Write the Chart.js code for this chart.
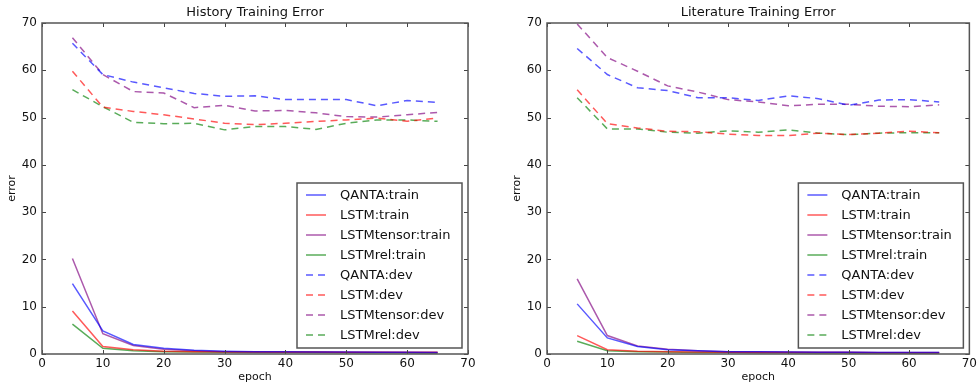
<!DOCTYPE html>
<html>
<head>
<meta charset="utf-8">
<script src="https://cdn.jsdelivr.net/npm/chart.js@4"></script>
<style>
  html, body { margin: 0; padding: 0; background: #fff; }
  #wrap { position: relative; width: 980px; height: 383px; }
  canvas { position: absolute; top: 0; }
</style>
</head>
<body>
<div id="wrap">
  <canvas id="histChart" width="490" height="383" style="left:0"></canvas>
  <canvas id="litChart" width="490" height="383" style="left:490px"></canvas>
</div>
<script>
const epochs = [5, 10, 15, 20, 25, 30, 35, 40, 45, 50, 55, 60, 65];
const xTicks = [0, 10, 20, 30, 40, 50, 60, 70];
const yTicks = [0, 10, 20, 30, 40, 50, 60, 70];

const seriesNames = ['QANTA:train', 'LSTM:train', 'LSTMtensor:train', 'LSTMrel:train',
                     'QANTA:dev', 'LSTM:dev', 'LSTMtensor:dev', 'LSTMrel:dev'];

// History
const histQantaTrain  = [14.9, 4.9, 2.0, 1.2, 0.8, 0.6, 0.5, 0.45, 0.4, 0.4, 0.35, 0.35, 0.3];
const histLstmTrain   = [9.1, 1.6, 0.9, 0.6, 0.5, 0.45, 0.4, 0.4, 0.4, 0.35, 0.35, 0.35, 0.35];
const histTensorTrain = [20.2, 4.3, 1.8, 1.0, 0.7, 0.5, 0.45, 0.4, 0.4, 0.35, 0.35, 0.3, 0.3];
const histRelTrain    = [6.3, 1.2, 0.7, 0.5, 0.4, 0.35, 0.3, 0.3, 0.3, 0.25, 0.25, 0.25, 0.2];
const histQantaDev    = [65.7, 59.1, 57.5, 56.3, 55.1, 54.5, 54.6, 53.8, 53.8, 53.8, 52.5, 53.6, 53.2];
const histLstmDev     = [59.8, 52.2, 51.3, 50.6, 49.7, 48.8, 48.5, 48.8, 49.2, 49.5, 49.9, 49.2, 49.9];
const histTensorDev   = [66.9, 59.1, 55.5, 55.2, 52.1, 52.6, 51.4, 51.5, 51.0, 50.2, 50.1, 50.6, 51.1];
const histRelDev      = [55.9, 52.3, 49.0, 48.7, 48.8, 47.4, 48.1, 48.1, 47.5, 48.8, 49.5, 49.5, 49.2];

// Literature
const litQantaTrain  = [10.6, 3.4, 1.6, 0.9, 0.7, 0.5, 0.45, 0.4, 0.35, 0.35, 0.3, 0.3, 0.3];
const litLstmTrain   = [3.9, 0.9, 0.6, 0.5, 0.4, 0.35, 0.3, 0.3, 0.3, 0.3, 0.25, 0.25, 0.25];
const litTensorTrain = [15.9, 3.9, 1.7, 1.0, 0.7, 0.5, 0.45, 0.4, 0.35, 0.35, 0.3, 0.3, 0.3];
const litRelTrain    = [2.7, 0.7, 0.5, 0.4, 0.3, 0.3, 0.25, 0.25, 0.2, 0.2, 0.2, 0.2, 0.2];
const litQantaDev    = [64.6, 59.1, 56.3, 55.7, 54.2, 54.2, 53.6, 54.6, 54.0, 52.6, 53.7, 53.8, 53.3];
const litLstmDev     = [55.9, 48.7, 47.8, 47.1, 47.0, 46.5, 46.2, 46.2, 46.7, 46.4, 46.7, 47.1, 46.8];
const litTensorDev   = [69.8, 62.7, 59.8, 56.7, 55.4, 53.8, 53.3, 52.5, 52.8, 52.8, 52.4, 52.3, 52.7];
const litRelDev      = [54.2, 47.6, 47.6, 46.9, 46.7, 47.2, 46.9, 47.4, 46.7, 46.4, 46.7, 46.8, 46.8];

const colors = ['rgba(0,0,255,0.65)', 'rgba(255,0,0,0.65)', 'rgba(128,0,128,0.65)', 'rgba(0,128,0,0.65)'];
const FONT = '"DejaVu Sans", sans-serif';
const DASH = [7, 5];

function makeDatasets(list) {
  return list.map((vals, i) => ({
    label: seriesNames[i],
    data: vals.map((v, j) => ({ x: epochs[j], y: v })),
    borderColor: colors[i % 4],
    borderWidth: 1.5,
    borderDash: i >= 4 ? DASH : [],
    pointRadius: 0,
    tension: 0,
    fill: false
  }));
}

// frame, inward ticks, title, axis labels and legend in matplotlib style
const mplDecor = {
  id: 'mplDecor',
  afterDraw(chart, args, opts) {
    const ctx = chart.ctx;
    const a = chart.chartArea;
    const xs = chart.scales.x, ys = chart.scales.y;
    ctx.save();
    ctx.strokeStyle = '#444';
    ctx.lineWidth = 1;
    xTicks.forEach(t => {
      const p = Math.round(xs.getPixelForValue(t)) + 0.5;
      ctx.beginPath();
      ctx.moveTo(p, a.bottom); ctx.lineTo(p, a.bottom - 4);
      ctx.moveTo(p, a.top); ctx.lineTo(p, a.top + 4);
      ctx.stroke();
    });
    yTicks.forEach(t => {
      const p = Math.round(ys.getPixelForValue(t)) + 0.5;
      ctx.beginPath();
      ctx.moveTo(a.left, p); ctx.lineTo(a.left + 4, p);
      ctx.moveTo(a.right, p); ctx.lineTo(a.right - 4, p);
      ctx.stroke();
    });
    ctx.lineWidth = 1.5;
    ctx.strokeStyle = '#555';
    ctx.strokeRect(a.left, a.top, a.right - a.left, a.bottom - a.top);

    // title and axis labels
    ctx.fillStyle = '#111';
    ctx.textAlign = 'center';
    ctx.textBaseline = 'middle';
    ctx.font = '13px ' + FONT;
    ctx.fillText(opts.title, (a.left + a.right) / 2, 13);
    ctx.font = '11px ' + FONT;
    ctx.fillText('epoch', (a.left + a.right) / 2, 377);
    ctx.save();
    ctx.translate(opts.yLabelX, (a.top + a.bottom) / 2);
    ctx.rotate(-Math.PI / 2);
    ctx.fillText('error', 0, 0);
    ctx.restore();

    // legend box in lower right
    const w = 165, h = 165;
    const bx = a.right - 6 - w, by = a.bottom - 6 - h;
    ctx.fillStyle = '#fff';
    ctx.fillRect(bx, by, w, h);
    ctx.lineWidth = 1.5;
    ctx.strokeStyle = '#555';
    ctx.strokeRect(bx, by, w, h);
    ctx.font = '13px ' + FONT;
    ctx.textAlign = 'left';
    chart.data.datasets.forEach((ds, i) => {
      const cy = by + 12 + i * 20;
      ctx.beginPath();
      ctx.setLineDash(ds.borderDash || []);
      ctx.strokeStyle = ds.borderColor;
      ctx.lineWidth = 1.5;
      ctx.moveTo(bx + 9, cy); ctx.lineTo(bx + 29, cy);
      ctx.stroke();
      ctx.setLineDash([]);
      ctx.fillStyle = '#111';
      ctx.fillText(ds.label, bx + 43, cy + 1);
    });
    ctx.restore();
  }
};

function makeChart(id, title, list, axisWidth, padRight, yLabelX) {
  return new Chart(document.getElementById(id), {
    type: 'line',
    data: { datasets: makeDatasets(list) },
    plugins: [mplDecor],
    options: {
      responsive: false,
      animation: false,
      devicePixelRatio: 1,
      layout: { padding: { top: 23, right: padRight, bottom: 0, left: 0 } },
      plugins: {
        legend: { display: false },
        title: { display: false },
        tooltip: { enabled: false },
        mplDecor: { title: title, yLabelX: yLabelX }
      },
      scales: {
        x: {
          type: 'linear', min: 0, max: 70,
          grid: { display: false, drawTicks: false },
          border: { display: false },
          afterFit: s => { s.height = 29; },
          afterBuildTicks: s => { s.ticks = xTicks.map(v => ({ value: v })); },
          ticks: { padding: 3, color: '#111', font: { family: FONT, size: 12 } }
        },
        y: {
          type: 'linear', min: 0, max: 70,
          grid: { display: false, drawTicks: false },
          border: { display: false },
          afterFit: s => { s.width = axisWidth; },
          afterBuildTicks: s => { s.ticks = yTicks.map(v => ({ value: v })); },
          ticks: { padding: 5, color: '#111', font: { family: FONT, size: 12 } }
        }
      }
    }
  });
}

makeChart('histChart', 'History Training Error',
  [histQantaTrain, histLstmTrain, histTensorTrain, histRelTrain,
   histQantaDev, histLstmDev, histTensorDev, histRelDev], 42, 22, 12);
makeChart('litChart', 'Literature Training Error',
  [litQantaTrain, litLstmTrain, litTensorTrain, litRelTrain,
   litQantaDev, litLstmDev, litTensorDev, litRelDev], 57, 7, 27);
</script>
</body>
</html>
